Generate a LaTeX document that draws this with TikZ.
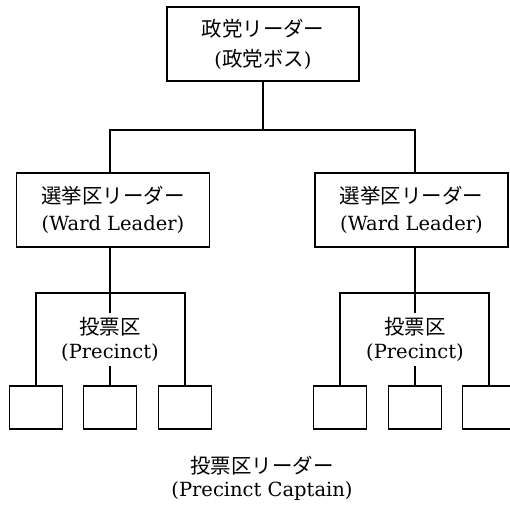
\documentclass[tikz,border=0pt]{standalone}
\usepackage{fontspec}
\setmainfont{DejaVu Serif}
\newfontfamily\cjk[Scale=1.05]{Noto Sans CJK JP}
\begin{document}
\begin{tikzpicture}[x=1pt,y=-1pt,
  box/.style={draw,line width=1.1pt,inner sep=0pt},
  bigbox/.style={box,minimum width=193pt,minimum height=74pt,align=center},
  smallbox/.style={box,minimum width=53pt,minimum height=43pt},
  conn/.style={line width=1.3pt},
  lbl/.style={align=center,inner sep=0pt}]
\useasboundingbox (0,0) rectangle (510,506);
\clip (0,0) rectangle (510,506);
% top
\node[bigbox,minimum width=192pt,font=\fontsize{19.5}{30}\selectfont] (top) at (263,44)
  {{\cjk 政党リーダー}\\({\cjk 政党ボス})};
% ward leaders
\node[bigbox,font=\fontsize{19.5}{27}\selectfont] (wl) at (113,210)
  {{\cjk 選挙区リーダー}\\(Ward Leader)};
\node[bigbox,font=\fontsize{19.5}{27}\selectfont] (wr) at (411.5,210)
  {{\cjk 選挙区リーダー}\\(Ward Leader)};
% precinct labels
\node[lbl,minimum height=53pt,font=\fontsize{19.5}{24}\selectfont] (pl) at (110,339.5)
  {{\cjk 投票区}\\(Precinct)};
\node[lbl,minimum height=53pt,font=\fontsize{19.5}{24}\selectfont] (pr) at (415,339.5)
  {{\cjk 投票区}\\(Precinct)};
% precinct captains
\node[smallbox] (s1) at (36,407.5) {};
\node[smallbox] (s2) at (110,407.5) {};
\node[smallbox] (s3) at (185,407.5) {};
\node[smallbox] (s4) at (340,407.5) {};
\node[smallbox] (s5) at (415,407.5) {};
\node[smallbox] (s6) at (489,407.5) {};
% caption
\node[lbl,font=\fontsize{19.5}{23}\selectfont] (cap) at (262,478)
  {{\cjk 投票区リーダー}\\(Precinct Captain)};
% bracket coordinates
\coordinate (ta) at (263,130);
\coordinate (ba) at (110,293);
\coordinate (bb) at (415,293);
% connectors
\draw[conn] (top.south) -- (ta);
\draw[conn] (wl.north -| ba) |- (ta) -| (wr.north -| bb);
\draw[conn] (wl.south -| ba) -- (pl.north);
\draw[conn] (wr.south -| bb) -- (pr.north);
\draw[conn] (s1.north) |- (ba) -| (s3.north);
\draw[conn] (s4.north) |- (bb) -| (s6.north);
\draw[conn] (pl.south) -- (s2.north);
\draw[conn] (pr.south) -- (s5.north);
\end{tikzpicture}
\end{document}
